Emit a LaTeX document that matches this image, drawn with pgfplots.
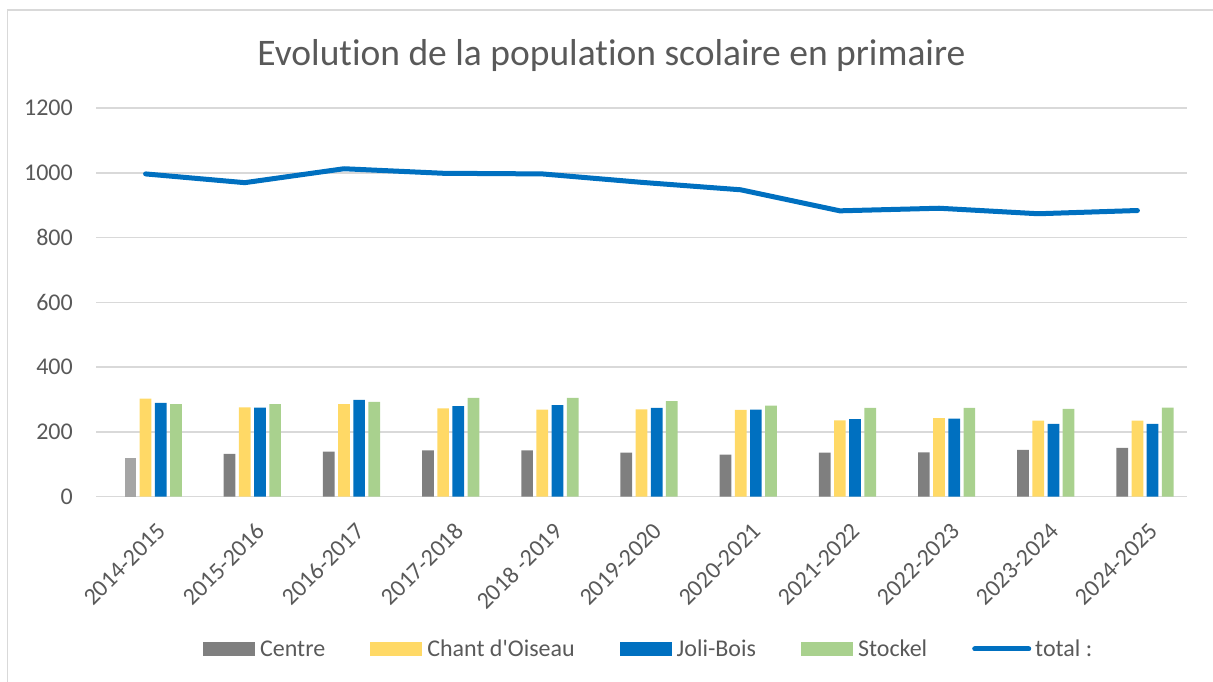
\documentclass[border=0pt]{standalone}
\usepackage{pgfplots}
\pgfplotsset{compat=1.18}
\usepackage{fontspec}
\setmainfont{Carlito}[Ligatures=NoCommon]
\definecolor{gridc}{HTML}{D9D9D9}
\definecolor{textc}{HTML}{595959}
\definecolor{centrec}{HTML}{7F7F7F}
\definecolor{centreone}{HTML}{A5A5A5}
\definecolor{chantc}{HTML}{FFD966}
\definecolor{jolic}{HTML}{0070C0}
\definecolor{stockelc}{HTML}{A9D18E}
\definecolor{totalc}{HTML}{0070C0}
\begin{document}
\begin{tikzpicture}
\draw[gridc, line width=1.5pt] (7.5pt,-682pt) -- (7.5pt,-9.8pt) -- (1213pt,-9.8pt);
\node[anchor=base, text=textc, font=\fontsize{37.5}{44}\selectfont] at (611.5pt,-66pt) {Evolution de la population scolaire en primaire};
\begin{axis}[
  at={(96pt,-496.7pt)}, anchor=south west,
  scale only axis, width=1091pt, height=388.5pt,
  xmin=-0.5, xmax=10.5, ymin=0, ymax=1200,
  ytick={0,200,...,1200},
  xtick={0,...,10},
  xticklabels={2014-2015,2015-2016,2016-2017,2017-2018,2018 -2019,2019-2020,2020-2021,2021-2022,2022-2023,2023-2024,2024-2025},
  axis line style={draw=none},
  tick style={draw=none},
  ymajorgrids, grid style={gridc, line width=1.5pt},
  ticklabel style={font=\fontsize{24}{28}\selectfont, text=textc},
  /pgf/number format/assume math mode=true,
  /pgf/number format/1000 sep={},
  yticklabel style={anchor=east, inner sep=0pt, xshift=-23pt},
  xticklabel style={rotate=45, anchor=east, inner sep=0pt, xshift=-10pt, yshift=-33pt},
  legend style={at={(0.5066,-0.392)}, anchor=center, draw=none, fill=none,
    font=\fontsize{24}{28}\selectfont, text=textc, legend columns=5,
    /tikz/every even column/.append style={column sep=43pt}},
  clip=false,
]
\addplot[ybar, bar width=0.118, bar shift=-0.153, fill=centrec, draw=none,
  legend image code/.code={\fill[centrec] (0pt,-7pt) rectangle (52pt,7pt); \path (55pt,0pt);}]
  coordinates {(1,132) (2,139) (3,143) (4,143) (5,136) (6,130) (7,136) (8,137) (9,145) (10,151)};
\addlegendentry{Centre}
\addplot[ybar, bar width=0.118, bar shift=0, fill=chantc, draw=none,
  legend image code/.code={\fill[chantc] (0pt,-7pt) rectangle (52pt,7pt); \path (55pt,0pt);}]
  coordinates {(0,303) (1,276) (2,286) (3,273) (4,269) (5,270) (6,268) (7,236) (8,243) (9,235) (10,235)};
\addlegendentry{Chant d\textquotesingle Oiseau}
\addplot[ybar, bar width=0.118, bar shift=0.153, fill=jolic, draw=none,
  legend image code/.code={\fill[jolic] (0pt,-7pt) rectangle (52pt,7pt); \path (55pt,0pt);}]
  coordinates {(0,290) (1,275) (2,299) (3,280) (4,283) (5,274) (6,269) (7,240) (8,241) (9,225) (10,225)};
\addlegendentry{Joli-Bois}
\addplot[ybar, bar width=0.118, bar shift=0.306, fill=stockelc, draw=none,
  legend image code/.code={\fill[stockelc] (0pt,-7pt) rectangle (52pt,7pt); \path (55pt,0pt);}]
  coordinates {(0,286) (1,286) (2,293) (3,305) (4,305) (5,295) (6,281) (7,274) (8,274) (9,271) (10,275)};
\addlegendentry{Stockel}
\addplot[sharp plot, color=totalc, line width=5pt, line cap=round, line join=round, mark=none,
  legend image code/.code={\draw[totalc, line width=5pt, line cap=round] (2pt,0pt) -- (56pt,0pt); \path (58pt,0pt);}]
  coordinates {(0,997) (1,970) (2,1013) (3,999) (4,997) (5,971) (6,948) (7,883) (8,891) (9,874) (10,884)};
\addlegendentry{total :}
\addplot[ybar, bar width=0.118, bar shift=-0.153, fill=centreone, draw=none, forget plot]
  coordinates {(0,121)};
\end{axis}
\pgfresetboundingbox
\path[use as bounding box] (0pt,0pt) rectangle (1213pt,-682pt);
\end{tikzpicture}
\end{document}
